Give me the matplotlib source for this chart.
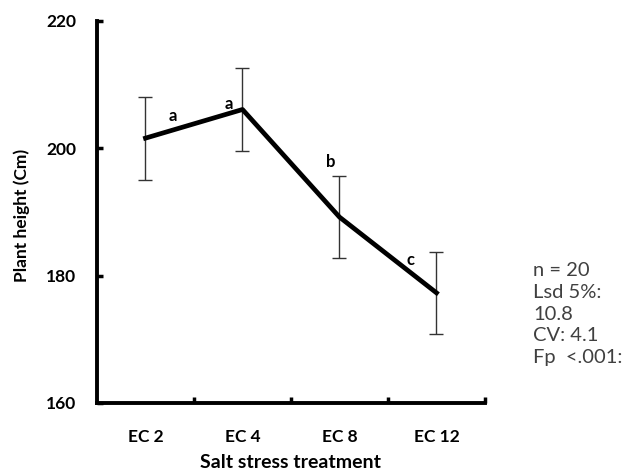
import matplotlib
matplotlib.use("Agg")
import matplotlib.pyplot as plt

categories = ["EC 2", "EC 4", "EC 8", "EC 12"]
heights = [201.6, 206.1, 189.2, 177.3]
errors = [6.5, 6.5, 6.45, 6.45]
letters = ["a", "a", "b", "c"]
stats_text = ["n = 20", "Lsd 5%:", "10.8", "CV: 4.1", "Fp  <.001:"]
yticks = [160, 180, 200, 220]

plt.rcParams['font.family'] = ['Lato', 'DejaVu Sans']

fig = plt.figure(figsize=(6.27, 4.75), dpi=100)
ax = fig.add_axes([0.1547, 0.1516, 0.7735 - 0.1547, 0.9558 - 0.1516])

x = list(range(1, len(categories) + 1))
ax.errorbar(x, heights, yerr=errors, color="black", lw=3.4, ecolor="#333333",
            elinewidth=1.0, capsize=5, capthick=1.0, zorder=3)

# letter positions (offsets relative to each point, in points)
offsets = [(19.4, 15.8), (-10, 4.3), (-6.5, 39.6), (-18.7, 23.8)]
for xi, yi, l, (dx, dy) in zip(x, heights, letters, offsets):
    ax.annotate(l, (xi, yi), xytext=(dx, dy), textcoords="offset points",
                fontsize=12, fontweight="bold", ha="center", va="center")

ax.set_xlim(0.5, 4.5)
ax.set_ylim(160, 220)
ax.set_xticks(x)
ax.set_xticklabels(categories, fontsize=12.5, fontweight="bold")
ax.set_xticks([1.5, 2.5, 3.5, 4.5], minor=True)
ax.tick_params(axis="x", which="major", length=0, pad=19)
ax.tick_params(axis="x", which="minor", length=4, width=2.5, direction="in")
ax.set_yticks(yticks)
ax.set_yticklabels([str(t) for t in yticks], fontsize=12.5, fontweight="bold")
ax.tick_params(axis="y", length=4, width=2.5, direction="in", pad=15)

for s in ["top", "right"]:
    ax.spines[s].set_visible(False)
for s in ["left", "bottom"]:
    ax.spines[s].set_linewidth(2.8)

ax.set_ylabel("Plant height (Cm)", fontsize=12.5, fontweight="bold", va="center")
ax.yaxis.set_label_coords(-0.193, 0.49)
ax.set_xlabel("Salt stress treatment", fontsize=14, fontweight="bold", va="center")
ax.xaxis.set_label_coords(0.5, -0.155)

fig.text(533 / 627, 1 - 314 / 475, "\n".join(stats_text), fontsize=14.5,
         ha="left", va="center", color="#404040", linespacing=1.35)

fig.savefig("out.png", dpi=100)
